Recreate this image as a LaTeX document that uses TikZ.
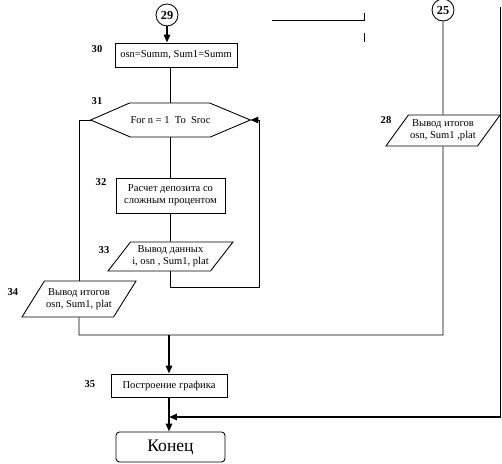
\documentclass[tikz,border=0pt]{standalone}
\usepackage{fontspec}
\setmainfont{Liberation Serif}
\usetikzlibrary{shapes.geometric,arrows.meta}

\begin{document}
\begin{tikzpicture}[font=\fontsize{6}{7}\selectfont,
  ln/.style={line width=0.5pt},
  wide/.style={line width=1pt},
  tip/.style={-{Triangle[length=4.5pt,width=3.6pt]}},
  blk/.style={draw,ln,inner sep=1pt,align=center},
  io/.style={draw,ln,trapezium,trapezium left angle=48,trapezium right angle=132,
    trapezium stretches=true,inner sep=1pt,align=center},
  conn/.style={draw,ln,circle,inner sep=0pt,minimum size=0.44cm,
    font=\fontsize{7}{8}\selectfont\bfseries},
  num/.style={font=\fontsize{6}{7}\selectfont\bfseries}]
  \useasboundingbox (0,0) rectangle (10.04,9.26);

  % connectors in
  \node[conn] (c29) at (3.34,8.96) {29};
  \node[conn] (c25) at (8.86,9.06) {25};

  % main column
  \node[blk,minimum width=2.44cm,minimum height=0.48cm] (b30) at (3.52,8.16) {osn=Summ, Sum1=Summ};
  \node[inner sep=0pt,minimum width=3.18cm,minimum height=0.68cm] (h31) at (3.41,6.86) {For n = 1 \ To \ Sroc};
  \draw[ln] (h31.west) -- ++(0.78,0.34) -- ++(1.6,0) -- (h31.east) -- ++(-0.8,-0.34) -- ++(-1.6,0) -- cycle;
  \node[blk,minimum width=2.18cm,minimum height=0.7cm] (b32) at (3.41,5.35) {Расчет депозита со\\сложным процентом};
  \node[io,minimum width=2.18cm,minimum height=0.58cm] (p33) at (3.41,4.13) {Вывод данных\\i, osn , Sum1, plat};
  \node[io,minimum width=2.2cm,minimum height=0.72cm] (p34) at (1.58,3.28) {Вывод итогов\\osn, Sum1, plat};
  \node[io,minimum width=2.2cm,minimum height=0.62cm] (p28) at (8.86,6.65) {Вывод итогов\\osn, Sum1 ,plat};
  \node[blk,minimum width=2.32cm,minimum height=0.46cm] (b35) at (3.38,1.55) {Построение графика};
  \node[draw,ln,rounded corners=2pt,minimum width=2.18cm,minimum height=0.6cm,
    font=\fontsize{10}{12}\selectfont] (end) at (3.41,0.32) {Конец};

  % numbers
  \node[num] (n30) at (1.94,8.28) {30};
  \node[num] (n31) at (1.94,7.24) {31};
  \node[num] (n32) at (2.02,5.62) {32};
  \node[num] (n33) at (2.08,4.26) {33};
  \node[num] (n34) at (0.26,3.42) {34};
  \node[num] (n35) at (1.8,1.58) {35};
  \node[num] (n28) at (7.72,6.86) {28};

  % turning points
  \coordinate (l33) at (5.18,3.52);
  \coordinate (j25) at (8.86,2.56);
  \coordinate (m35) at (3.38,2.56);
  \coordinate (r25) at (10.01,9.12);
  \coordinate (m36) at (3.38,0.92);

  \draw[wide,tip] (c29.south) -- (c29.south |- b30.north);
  \draw[ln] (h31.north |- b30.south) -- (h31.north);
  \draw[ln] (h31.south) -- (h31.south |- b32.north);
  \draw[ln] (b32.south) -- (p33.north);
  \draw[ln,tip] (p33.south) |- (l33) |- (h31.east);
  \draw[ln] (h31.west) -| (p34.north);
  \draw[ln] (c25.south) -- (p28.north);
  \draw[ln] (p34.south) |- (j25) -- (p28.south);
  \draw[wide,tip] (m35) -- (m35 |- b35.north);
  \draw[wide,tip] (b35.south) -- (b35.south |- end.north);
  \draw[wide,tip] (r25) |- (m36);

  % stray strokes at the top
  \draw[ln] (5.44,8.86) -- (7.28,8.86) -- (7.28,9.0);
  \draw[ln] (7.28,8.6) -- (7.28,8.42);
\end{tikzpicture}
\end{document}
